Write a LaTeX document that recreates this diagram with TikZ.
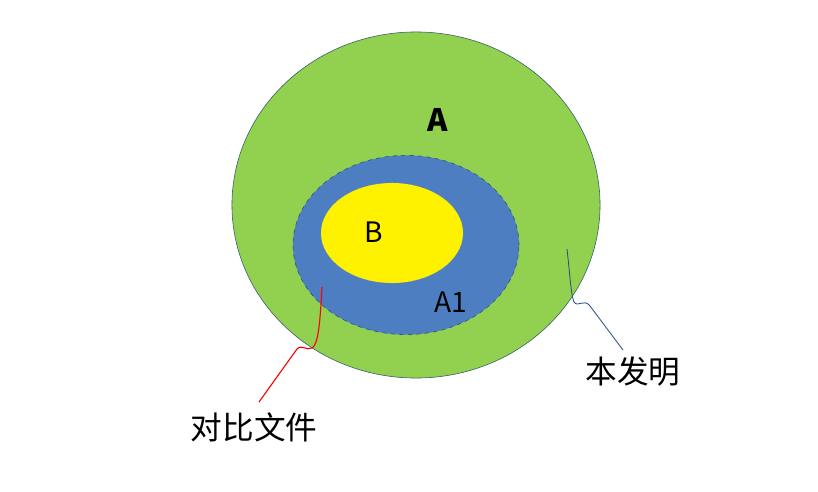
\documentclass[tikz,border=0pt]{standalone}
\usepackage{fontspec}
\setmainfont{Noto Sans CJK SC}
\newfontfamily\cjk{Noto Sans CJK SC}
\usetikzlibrary{shapes.geometric}
\definecolor{areagreen}{HTML}{92D050}
\definecolor{areablue}{HTML}{4C7EC1}
\definecolor{edgeblue}{HTML}{2B4F80}
\definecolor{rimteal}{HTML}{2F5D66}
\begin{document}
\begin{tikzpicture}[x=0.025cm, y=-0.025cm, region/.style={ellipse, inner sep=0pt}, tag/.style={font=\cjk\fontsize{22.5}{24}\selectfont}, letter/.style={font=\fontsize{20}{22}\selectfont}]
      \useasboundingbox (0,0) rectangle (818,492);
      \fill[white] (0,0) rectangle (818,492);
      \node[region, fill=areagreen, draw=rimteal, thin, minimum width=9.2cm, minimum height=8.65cm] (outer) at (416,205) {};
      \node[region, fill=areablue, draw=edgeblue, dashed, thin, minimum width=5.65cm, minimum height=4.48cm] (ring) at (406,245) {};
      \node[region, fill=yellow, draw=yellow!80!black, dashed, very thin, minimum width=3.55cm, minimum height=2.5cm] (core) at (392,233) {};

      \node[letter, font=\bfseries\fontsize{22}{24}\selectfont] (a) at (438,120) {A};
      \node[letter] (b) at (374,232) {B};
      \node[letter] (a1) at (451,302) {A1};
      \node[tag] (prior) at (254,427) {对比文件};
      \node[tag] (ours) at (633,372) {本发明};

      \coordinate (r0) at (322,287);
      \coordinate (r1) at (259,402);
      \coordinate (b0) at (567,249);
      \coordinate (b1) at (623,350);
      \draw[red, line width=0.8pt] (r0) .. controls (320,325) and (318,345) .. (312,348) .. controls (306,351) and (302,344) .. (297,349) -- (r1);
      \draw[edgeblue, line width=0.6pt] (b0) .. controls (570,275) and (571,295) .. (574,302) .. controls (578,308) and (584,298) .. (590,306) -- (b1);
    \end{tikzpicture}
\end{document}
